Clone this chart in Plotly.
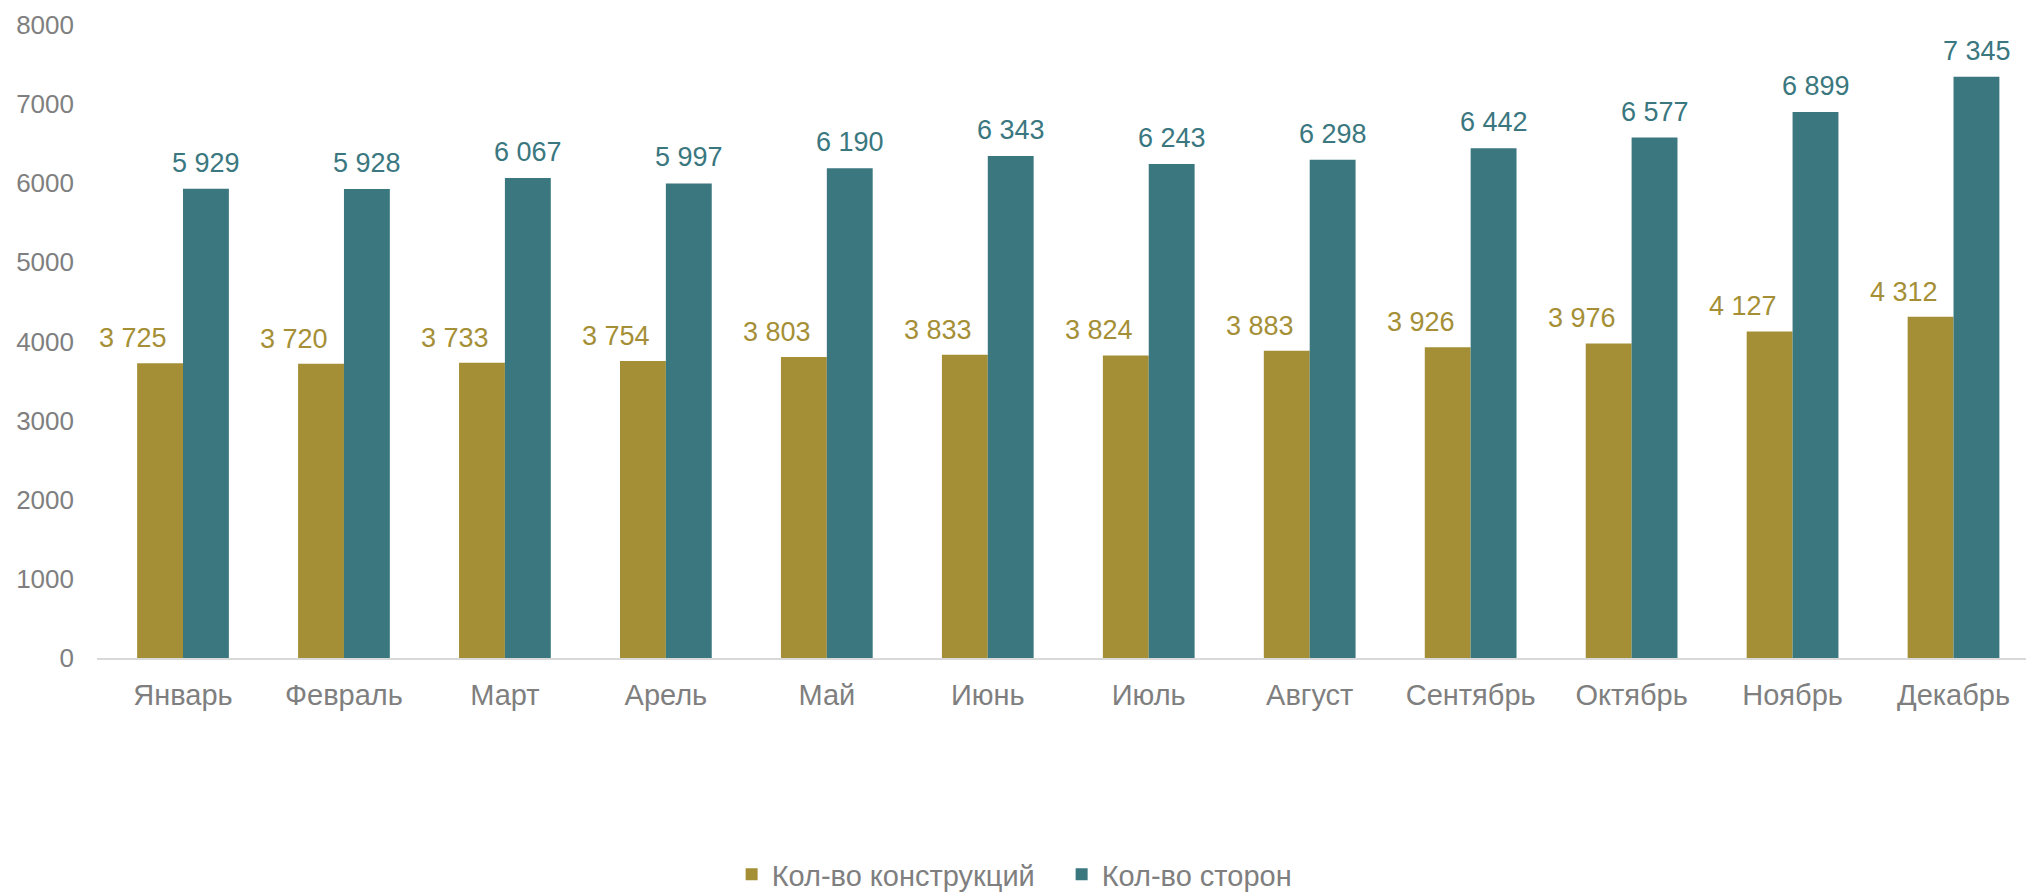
import plotly.graph_objects as go

months = ["Январь", "Февраль", "Март", "Арель", "Май", "Июнь", "Июль",
          "Август", "Сентябрь", "Октябрь", "Ноябрь", "Декабрь"]
constructions = [3725, 3720, 3733, 3754, 3803, 3833, 3824, 3883, 3926, 3976, 4127, 4312]
sides = [5929, 5928, 6067, 5997, 6190, 6343, 6243, 6298, 6442, 6577, 6899, 7345]
series_names = ["Кол-во конструкций", "Кол-во сторон"]
y_ticks = [0, 1000, 2000, 3000, 4000, 5000, 6000, 7000, 8000]

GOLD = "#A58F36"
TEAL = "#3A777F"
GRAY = "#7F7F7F"
FONT = "Liberation Sans, Arial, sans-serif"


def fmt(v):
    return f"{v:,}".replace(",", " ")


fig = go.Figure()
fig.add_trace(go.Bar(x=months, y=constructions, name=series_names[0],
                     marker=dict(color=GOLD, line=dict(width=0))))
fig.add_trace(go.Bar(x=months, y=sides, name=series_names[1],
                     marker=dict(color=TEAL, line=dict(width=0))))

annotations = []
for m, v in zip(months, constructions):
    annotations.append(dict(x=m, y=v, xref="x", yref="y", text=fmt(v),
                            showarrow=False, xshift=-50, yshift=25,
                            yanchor="middle", xanchor="center",
                            font=dict(size=27, color=GOLD, family=FONT)))
for m, v in zip(months, sides):
    annotations.append(dict(x=m, y=v, xref="x", yref="y", text=fmt(v),
                            showarrow=False, xshift=23, yshift=26,
                            yanchor="middle", xanchor="center",
                            font=dict(size=27, color=TEAL, family=FONT)))

fig.update_layout(
    width=2026, height=892,
    margin=dict(l=89, r=0, t=17, b=234),
    paper_bgcolor="white", plot_bgcolor="white",
    barmode="group", bargap=0.43, bargroupgap=0,
    font=dict(family=FONT, size=26, color=GRAY),
    showlegend=True,
    legend=dict(orientation="h", x=0.498, xanchor="center", y=-0.342, yanchor="middle",
                font=dict(size=29, color=GRAY, family=FONT),
                entrywidth=285, entrywidthmode="pixels",
                traceorder="normal"),
    annotations=annotations,
    xaxis=dict(showline=True, linecolor="#D9D9D9", linewidth=2, ticks="",
               showgrid=False, tickfont=dict(size=29, color=GRAY),
               ticklabelstandoff=10),
    yaxis=dict(range=[0, 8000], tickvals=y_ticks, showgrid=False, zeroline=False,
               showline=False, ticks="", tickfont=dict(size=26, color=GRAY),
               ticklabelstandoff=22),
)

fig.write_html("out.html")
